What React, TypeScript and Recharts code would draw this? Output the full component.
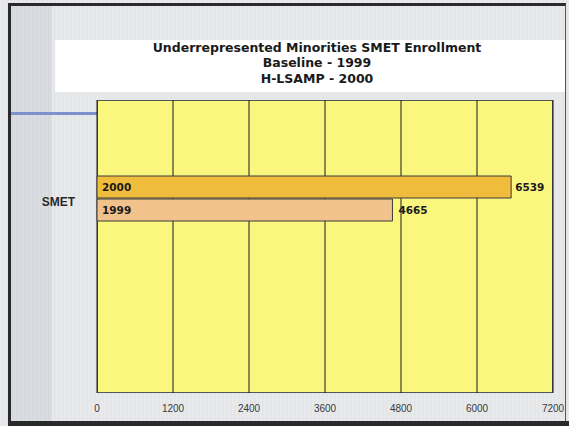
import { BarChart, Bar, XAxis, YAxis, CartesianGrid, LabelList } from 'recharts';

const categories = ['SMET'];
const seriesNames = ['2000', '1999'];
const values2000 = [6539];
const values1999 = [4665];
const xTicks = [0, 1200, 2400, 3600, 4800, 6000, 7200];
const titleLines = ['Underrepresented Minorities SMET Enrollment', 'Baseline - 1999', 'H-LSAMP - 2000'];

const GOLD = '#F0BC3C';
const PEACH = '#F2C28C';
const PLOT = '#FAF67E';

const data = categories.map((c, i) => ({
  name: c,
  y2000: values2000[i],
  y1999: values1999[i],
}));

const boldFont = '"DejaVu Sans", Verdana, sans-serif';
const plainFont = '"Liberation Sans", Arial, sans-serif';

export default function App() {
  return (
    <div
      style={{
        position: 'fixed',
        left: 0,
        top: 0,
        width: 569,
        height: 426,
        overflow: 'hidden',
        background: 'repeating-linear-gradient(90deg, #e8e9eb 0px, #e8e9eb 2px, #dfe0e3 3px, #ededee 4px)',
      }}
    >
      {/* darker strip on the left */}
      <div
        style={{
          position: 'absolute',
          left: 10,
          top: 6,
          width: 42,
          height: 416,
          background: 'repeating-linear-gradient(90deg, #dadce1 0px, #dadce1 2px, #cfd2d8 3px, #e0e2e6 4px)',
        }}
      />
      {/* frame */}
      <div
        style={{
          position: 'absolute',
          left: 8,
          top: 3,
          width: 558,
          height: 426,
          boxSizing: 'border-box',
          borderTop: '3px solid #2a2a2a',
          borderLeft: '3px solid #2a2a2a',
          borderRight: '1px solid #555',
        }}
      />
      <div style={{ position: 'absolute', left: 8, top: 421, width: 561, height: 5, background: '#2a2a2a' }} />
      {/* title box */}
      <div
        style={{
          position: 'absolute',
          left: 55,
          top: 40,
          width: 510,
          height: 52,
          background: '#ffffff',
        }}
      />
      <div
        style={{
          position: 'absolute',
          left: 55,
          top: 37,
          width: 524,
          height: 52,
          display: 'flex',
          flexDirection: 'column',
          justifyContent: 'center',
          alignItems: 'center',
          fontFamily: boldFont,
          fontWeight: 'bold',
          fontSize: 12.5,
          lineHeight: '15.5px',
          color: '#1a1a1a',
        }}
      >
        {titleLines.map((t) => (
          <div key={t}>{t}</div>
        ))}
      </div>
      {/* blue rule */}
      <div style={{ position: 'absolute', left: 11, top: 112, width: 86, height: 3, background: '#7d92cc' }} />
      {/* plot background */}
      <div
        style={{
          position: 'absolute',
          left: 97,
          top: 100,
          width: 456,
          height: 293,
          boxSizing: 'border-box',
          background: PLOT,
          border: '1px solid #555',
        }}
      />
      <div style={{ position: 'absolute', left: 0, top: 0 }}>
        <BarChart
          width={569}
          height={426}
          data={data}
          layout="vertical"
          margin={{ top: 100, right: 16, bottom: 0, left: 0 }}
          barSize={22}
          barGap={1}
        >
          <CartesianGrid horizontal={false} stroke="#1a1a1a" strokeWidth={1} fill="none" />
          <XAxis
            type="number"
            domain={[0, 7200]}
            ticks={xTicks}
            interval={0}
            axisLine={false}
            tickLine={false}
            tickMargin={6}
            height={33}
            tick={{ fontSize: 10, fill: '#3a3a3a', fontFamily: plainFont }}
          />
          <YAxis
            type="category"
            dataKey="name"
            width={97}
            axisLine={false}
            tickLine={false}
            tickMargin={16}
            padding={{ top: 0, bottom: 97 }}
            tick={{ fontSize: 12, fill: '#2a2a2a', fontWeight: 'bold', fontFamily: plainFont, dy: 4 }}
          />
          <Bar dataKey="y2000" name={seriesNames[0]} fill={GOLD} stroke="#3a3a3a" strokeWidth={1} isAnimationActive={false}>
            <LabelList
              position="insideLeft"
              content={(p: any) => (
                <text x={p.x + 5} y={p.y + p.height / 2} dy="0.36em" fontSize={10.5} fontWeight="bold" fontFamily={boldFont} fill="#1a1a1a">
                  {seriesNames[0]}
                </text>
              )}
            />
            <LabelList dataKey="y2000" position="right" offset={4} style={{ fontSize: 10.5, fontWeight: 'bold', fontFamily: boldFont, fill: '#1a1a1a' }} />
          </Bar>
          <Bar dataKey="y1999" name={seriesNames[1]} fill={PEACH} stroke="#3a3a3a" strokeWidth={1} isAnimationActive={false}>
            <LabelList
              position="insideLeft"
              content={(p: any) => (
                <text x={p.x + 5} y={p.y + p.height / 2} dy="0.36em" fontSize={10.5} fontWeight="bold" fontFamily={boldFont} fill="#1a1a1a">
                  {seriesNames[1]}
                </text>
              )}
            />
            <LabelList dataKey="y1999" position="right" offset={6} style={{ fontSize: 10.5, fontWeight: 'bold', fontFamily: boldFont, fill: '#1a1a1a' }} />
          </Bar>
        </BarChart>
      </div>
    </div>
  );
}
